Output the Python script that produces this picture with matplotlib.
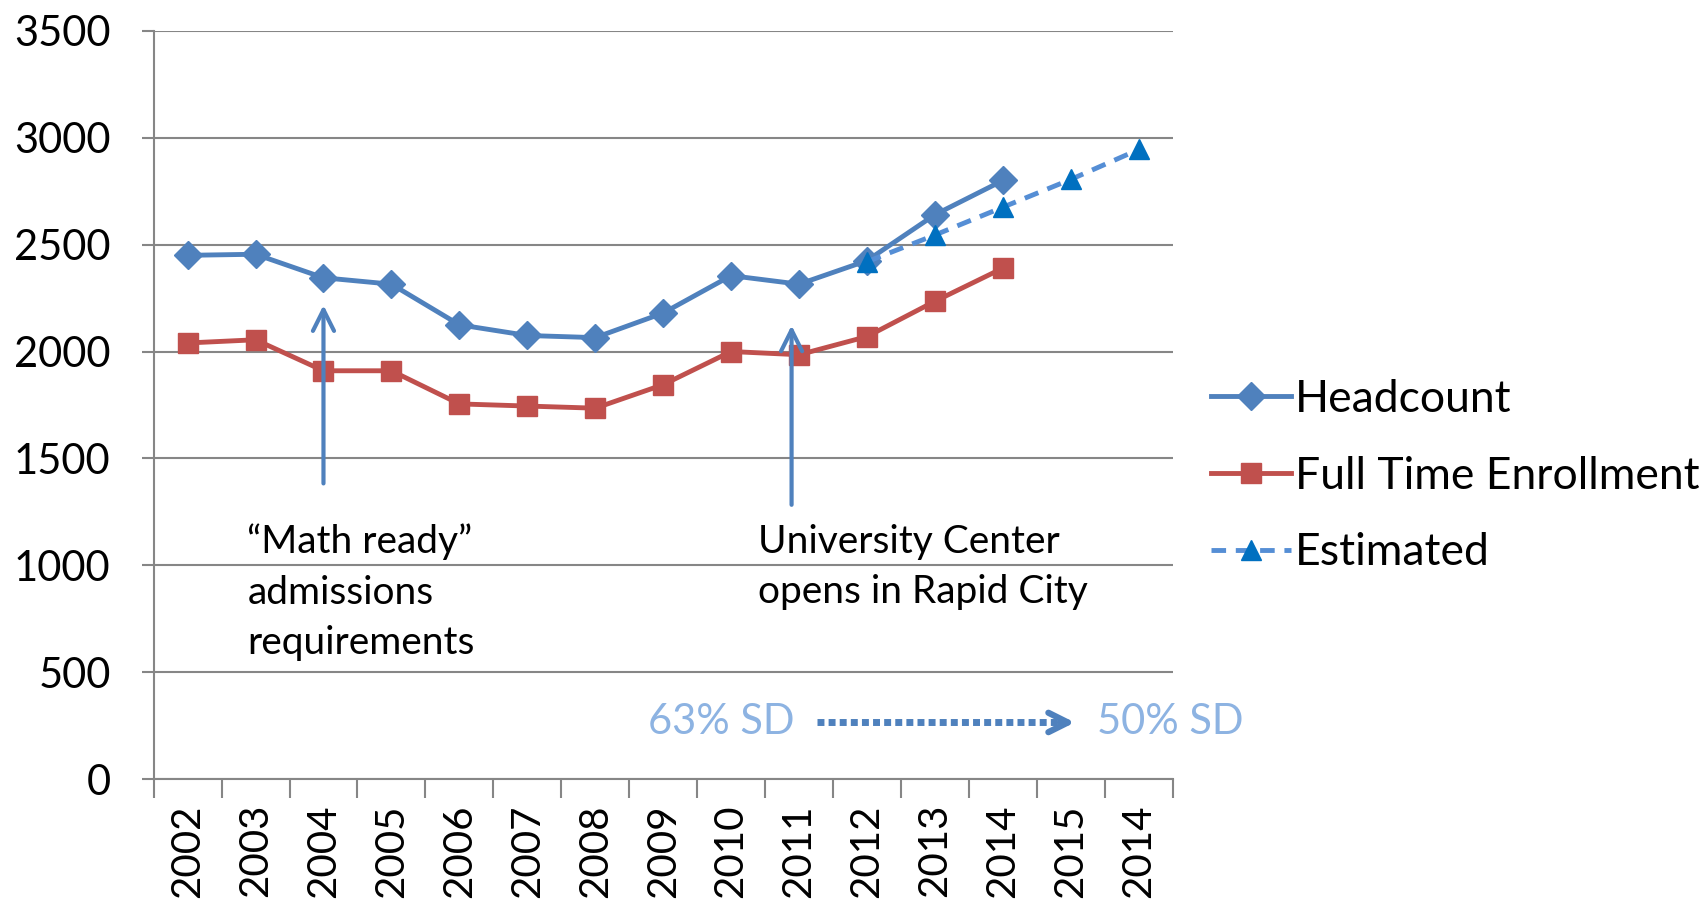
import matplotlib.pyplot as plt
import numpy as np

plt.rcParams['font.family'] = ['Lato', 'DejaVu Sans']

# data
years = ['2002', '2003', '2004', '2005', '2006', '2007', '2008', '2009',
         '2010', '2011', '2012', '2013', '2014', '2015', '2014']
headcount = [2450, 2455, 2345, 2315, 2125, 2075, 2065, 2180, 2355, 2315, 2425, 2640, 2800]
full_time = [2040, 2055, 1910, 1910, 1755, 1745, 1735, 1845, 2000, 1985, 2070, 2235, 2390]
est_start = 10
estimated = [2420, 2545, 2675, 2805, 2945]

x = np.arange(len(years))

fig = plt.figure(figsize=(17.07, 9.07), dpi=100)
ax = fig.add_axes([0.09, 0.141, 0.597, 0.825])

ax.plot(x[:len(headcount)], headcount, color='#4F81BD', lw=3.5, marker='D',
        ms=14, label='Headcount', zorder=3)
ax.plot(x[:len(full_time)], full_time, color='#C0504D', lw=3.5, marker='s',
        ms=15, label='Full Time Enrollment', zorder=3)
ax.plot(x[est_start:est_start + len(estimated)], estimated, color='#558ED5',
        lw=3.5, ls=(0, (3, 2)), marker='^', ms=14, mfc='#0070C0', mec='#0070C0',
        label='Estimated', zorder=4)

# annotations
arrow_kw = dict(arrowstyle='->', color='#4F81BD', lw=3, mutation_scale=38)
ax.annotate('', xy=(2.0, 2230), xytext=(2.0, 1370), arrowprops=arrow_kw)
ax.annotate('', xy=(8.89, 2135), xytext=(8.89, 1270), arrowprops=arrow_kw)
ax.text(0.88, 1195, '\u201cMath ready\u201d\nadmissions\nrequirements', fontsize=28,
        va='top', ha='left', linespacing=1.5)
ax.text(8.4, 1195, 'University Center\nopens in Rapid City', fontsize=28,
        va='top', ha='left', linespacing=1.5)

# SD shift
ax.text(8.94, 265, '63% SD', fontsize=30, color='#8DB3E2', ha='right', va='center')
ax.text(13.38, 265, '50% SD', fontsize=30, color='#8DB3E2', ha='left', va='center',
        clip_on=False)
ax.plot([9.26, 12.95], [265, 265], color='#4F81BD', lw=5, ls=(0, (1, 0.6)),
        dash_capstyle='butt')
ax.annotate('', xy=(13.1, 265), xytext=(12.8, 265),
            arrowprops=dict(arrowstyle='->', color='#4F81BD', lw=4.5,
                            mutation_scale=35))

ax.set_xlim(-0.5, len(years) - 0.5)
ax.set_ylim(0, 3500)
ax.set_yticks(np.arange(0, 3501, 500))
ax.set_xticks(x)
ax.set_xticklabels(years, rotation=90, fontsize=29)
ax.set_xticks(np.arange(-0.5, len(years), 1), minor=True)
ax.tick_params(axis='x', which='major', length=0, pad=18)
ax.tick_params(axis='x', which='minor', length=14, width=1.5, color='#868686')
ax.tick_params(axis='y', length=9, width=1.5, color='#868686', labelsize=30, pad=22)
ax.grid(axis='y', color='#868686', lw=1.5)
ax.set_axisbelow(True)
for s in ['top', 'right']:
    ax.spines[s].set_visible(False)
for s in ['left', 'bottom']:
    ax.spines[s].set_color('#868686')
    ax.spines[s].set_linewidth(1.5)

ax.legend(loc='center left', bbox_to_anchor=(1.02, 0.405), frameon=False,
          fontsize=32, handlelength=1.8, handletextpad=0.1, labelspacing=0.8,
          borderaxespad=0)

fig.savefig('out.png', dpi=100)
